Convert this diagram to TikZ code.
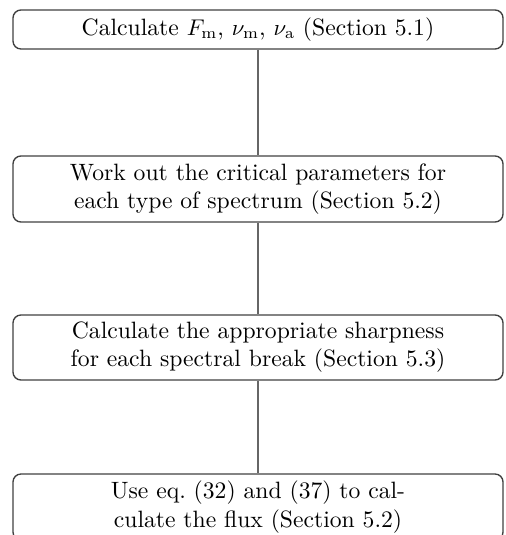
\documentclass[tikz,border=0pt]{standalone}
\begin{document}
\begin{tikzpicture}[x=0.44pt,y=-0.44pt,
  stepbox/.style={draw=black!75,line width=0.6pt,rounded corners=3.5pt,
    minimum width=490*0.44pt,align=center,inner sep=0pt,font=\fontsize{10.4}{12.4}\selectfont},
  link/.style={draw=black!60,line width=0.6pt}]
\useasboundingbox (0,0) rectangle (505,535);
\node[stepbox,minimum height=39*0.44pt] (b1) at (258,29.5) {Calculate $F_{\mathrm{m}}$, $\nu_{\mathrm{m}}$, $\nu_{\mathrm{a}}$ (Section 5.1)};
\node[stepbox,minimum height=66*0.44pt] (b2) at (258,189) {Work out the critical parameters for\\each type of spectrum (Section 5.2)};
\node[stepbox,minimum height=65*0.44pt] (b3) at (258,347.5) {Calculate the appropriate sharpness\\for each spectral break (Section 5.3)};
\node[stepbox,minimum height=66*0.44pt] (b4) at (258,507) {Use eq.\ (32) and (37) to cal-\\culate the flux (Section 5.2)};
\draw[link] (b1) -- (b2);
\draw[link] (b2) -- (b3);
\draw[link] (b3) -- (b4);
\end{tikzpicture}
\end{document}
